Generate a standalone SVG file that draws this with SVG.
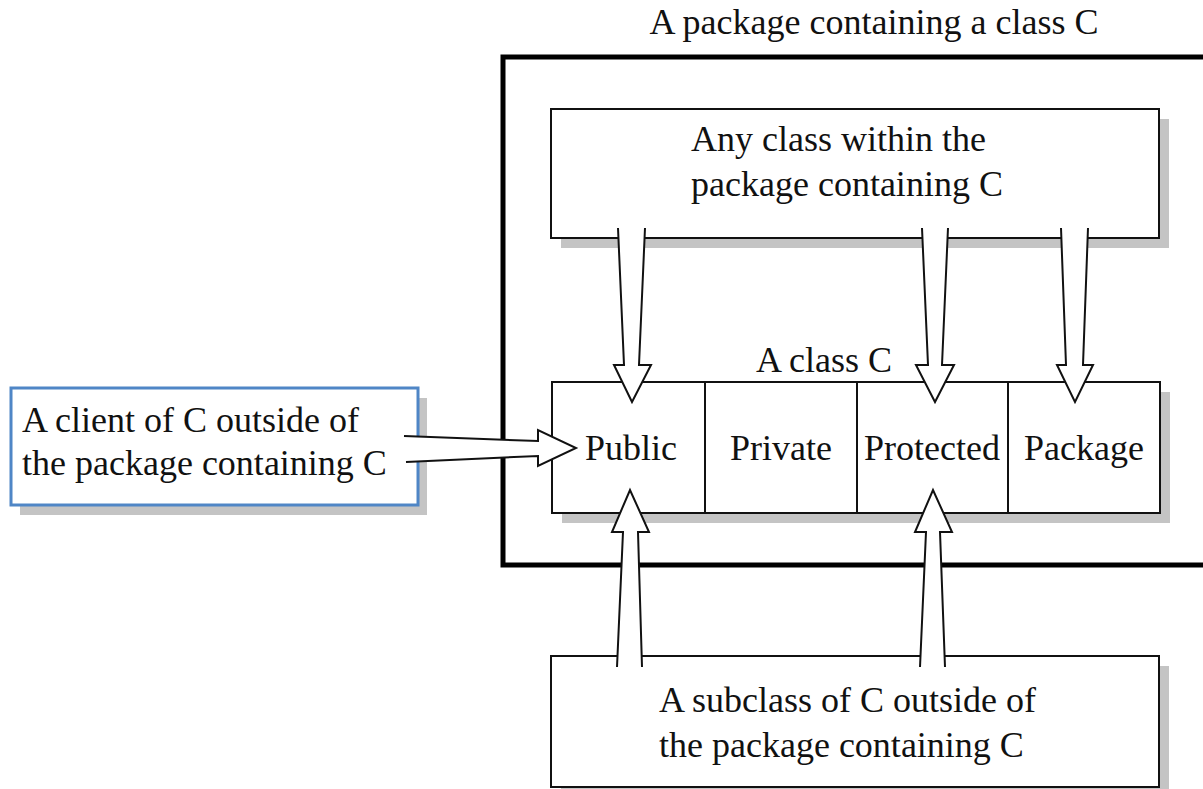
<svg xmlns="http://www.w3.org/2000/svg" width="1203" height="789" viewBox="0 0 1203 789">
<style>
text{font-family:"Liberation Serif","Times New Roman",serif;font-size:36px;fill:#111}
.box{fill:#fff;stroke:#111;stroke-width:2}
.shadow{fill:#c4c4c4;stroke:none}
.arrow{fill:#fff;stroke:#111;stroke-width:2;stroke-linejoin:miter}
.mid{text-anchor:middle}
</style>
<rect width="1203" height="789" fill="#fff"/>
<g id="package">
<rect x="503" y="57" width="720" height="508" fill="none" stroke="#000" stroke-width="5"/>
<text class="mid" x="874" y="34">A package containing a class C</text>
</g>
<g id="anyclass">
<rect class="shadow" x="561" y="119" width="608" height="129"/>
<rect class="box" x="551" y="109" width="608" height="129"/>
<text x="691" y="151">Any class within the</text>
<text x="691" y="196">package containing C</text>
</g>
<g id="classC">
<rect class="shadow" x="562" y="392" width="608" height="131"/>
<rect class="box" x="552" y="382" width="608" height="131"/>
<line x1="705" y1="382" x2="705" y2="513" stroke="#111" stroke-width="2"/>
<line x1="857" y1="382" x2="857" y2="513" stroke="#111" stroke-width="2"/>
<line x1="1008" y1="382" x2="1008" y2="513" stroke="#111" stroke-width="2"/>
<text class="mid" x="824" y="372">A class C</text>
<text class="mid" x="631" y="460">Public</text>
<text class="mid" x="781" y="460">Private</text>
<text class="mid" x="932" y="460">Protected</text>
<text class="mid" x="1084" y="460">Package</text>
</g>
<g id="client">
<rect class="shadow" x="20" y="398" width="407" height="117"/>
<rect x="11" y="388" width="407" height="117" fill="#fff" stroke="#4f86c6" stroke-width="3"/>
<text x="22" y="432">A client of C outside of</text>
<text x="22" y="475">the package containing C</text>
</g>
<g id="subclass">
<rect class="shadow" x="561" y="666" width="608" height="131"/>
<rect class="box" x="551" y="656" width="608" height="131"/>
<text x="659" y="712">A subclass of C outside of</text>
<text x="659" y="757">the package containing C</text>
</g>
<g id="connectors">
<path class="arrow" d="M618,228 L624,365 L614,365 L632,402 L651,365 L639,365 L645,228"/>
<path class="arrow" d="M922,228 L928,365 L916,365 L935,402 L954,365 L942,365 L948,228"/>
<path class="arrow" d="M1061,228 L1066,365 L1057,365 L1075,402 L1093,365 L1083,365 L1088,228"/>
<path class="arrow" d="M617,667 L623,532 L612,532 L630,490 L649,532 L638,532 L642,667"/>
<path class="arrow" d="M920,667 L926,532 L915,532 L933,490 L952,532 L940,532 L945,667"/>
<path class="arrow" d="M404,436 L538,441 L538,430 L576,448 L538,466 L538,456 L406,462"/>
</g>
</svg>
